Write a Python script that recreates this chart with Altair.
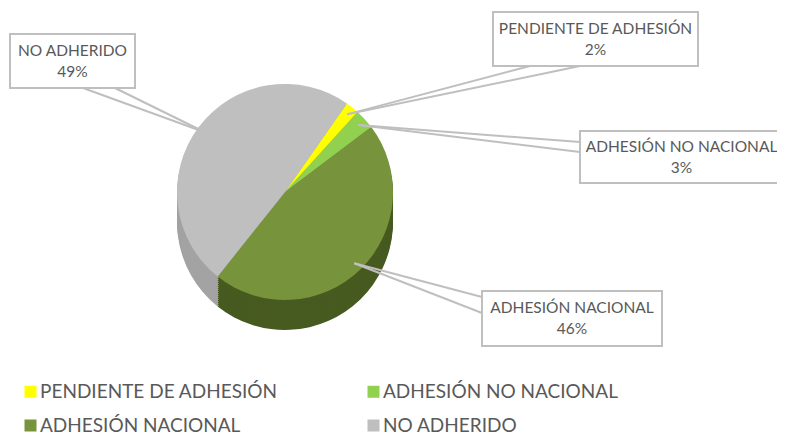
import math
import altair as alt
import pandas as pd

# ---- data ----
categories = ["PENDIENTE DE ADHESIÓN", "ADHESIÓN NO NACIONAL", "ADHESIÓN NACIONAL", "NO ADHERIDO"]
values = [2, 3, 46, 49]
top_colors = ["#FFFF00", "#92D050", "#77933C", "#BFBFBF"]
side_colors = ["#C4C400", "#6A9A38", "#475A20", "#A3A3A3"]

# ---- layout (pixels inside the 8px page margin) ----
M = 8
CX, CY, R, DEPTH = 285 - M, 192 - M, 108, 30
START = math.radians(35)
# label boxes: x0, y0, x1, y1, and two base points of the callout wedge
boxes = {
    "NO ADHERIDO": ((10, 34, 135, 88), ((83, 88), (115, 88))),
    "PENDIENTE DE ADHESIÓN": ((493, 12, 698, 66), ((530, 66), (580, 66))),
    "ADHESIÓN NO NACIONAL": ((580, 131, 783, 183), ((580, 142), (580, 152))),
    "ADHESIÓN NACIONAL": ((482, 291, 662, 346), ((482, 297), (482, 313))),
}
FONT = "Lato"
GREY_TXT = "#595959"
LINE = "#BFBFBF"

df = pd.DataFrame({"cat": categories, "value": values, "idx": list(range(len(values))),
                   "side": side_colors})

theta = alt.Theta("value:Q", stack=True,
                  scale=alt.Scale(range=[START, START + 2 * math.pi]))
order = alt.Order("idx:Q", sort="ascending")
base = alt.Chart(df)

layers = []
for off in range(DEPTH, 0, -2):
    layers.append(base.mark_arc(outerRadius=R).encode(
        theta=theta, order=order,
        color=alt.Color("side:N", scale=None),
        x=alt.value(CX), y=alt.value(CY + off)))

top = base.mark_arc(outerRadius=R).encode(
    theta=theta, order=order,
    color=alt.Color("cat:N", sort=categories,
                    scale=alt.Scale(domain=categories, range=top_colors),
                    legend=alt.Legend(title=None, orient="none", legendX=13, legendY=374,
                                      direction="horizontal",
                                      columns=2, columnPadding=86, rowPadding=14,
                                      symbolType="square", symbolSize=144,
                                      symbolStrokeWidth=0, labelFontSize=19,
                                      labelFont=FONT, labelColor=GREY_TXT,
                                      labelOffset=0, labelLimit=400, padding=0)),
    x=alt.value(CX), y=alt.value(CY))
layers.append(top)

# ---- callout labels (anchor derived from each slice's mid angle) ----
total = sum(values)
rule_rows, box_rows, text_rows = [], [], []
cum = 0.0
LH = 21
for cat, v in zip(categories, values):
    mid = START + 2 * math.pi * (cum + v / 2) / total
    cum += v
    ax = CX + R * 0.92 * math.sin(mid)
    ay = CY - R * 0.92 * math.cos(mid)
    (x0, y0, x1, y1), pts = boxes[cat]
    for (px_, py_) in pts:
        rule_rows.append({"x": px_ - M, "y": py_ - M, "x2": ax, "y2": ay})
    box_rows.append({"x": x0 - M, "y": y0 - M, "x2": x1 - M, "y2": y1 - M})
    text_rows.append({"x": (x0 + x1) / 2 - M, "y": (y0 + y1) / 2 - M - LH / 2,
                      "label": f"{cat}\n{round(100 * v / total)}%"})

px = lambda f: alt.X(f, scale=None, axis=None)
py = lambda f: alt.Y(f, scale=None, axis=None)

rules = alt.Chart(pd.DataFrame(rule_rows)).mark_rule(color=LINE, strokeWidth=2).encode(
    x=px("x:Q"), y=py("y:Q"), x2="x2:Q", y2="y2:Q")
rects = alt.Chart(pd.DataFrame(box_rows)).mark_rect(
    fill="white", stroke=LINE, strokeWidth=2).encode(
    x=px("x:Q"), y=py("y:Q"), x2="x2:Q", y2="y2:Q")
texts = alt.Chart(pd.DataFrame(text_rows)).mark_text(
    font=FONT, fontSize=15.5, color=GREY_TXT, lineBreak="\n", lineHeight=LH,
    align="center", baseline="middle").encode(
    x=px("x:Q"), y=py("y:Q"), text="label:N")

layers += [rules, rects, texts]

chart = alt.layer(*layers).resolve_scale(color="independent").properties(
    width=769, height=428, padding=0, autosize="none"
).configure_view(stroke=None)

chart.save("out.html", embed_options={"renderer": "svg", "actions": False})
